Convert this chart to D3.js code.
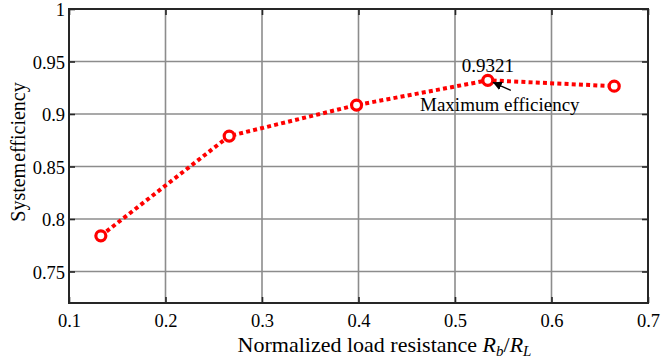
<!DOCTYPE html>
<html>
<head>
<meta charset="utf-8">
<script src="https://cdn.jsdelivr.net/npm/d3@7"></script>
<style>
  body { margin: 0; background: #fff; }
  svg text { font-family: "Liberation Serif", "Times New Roman", "DejaVu Serif", serif !important; fill: #000; }
</style>
</head>
<body>
<div id="chart"></div>
<script>
// Chart data
const loadRatio = [0.133, 0.266, 0.398, 0.534, 0.665];
const efficiency = [0.784, 0.879, 0.9085, 0.9321, 0.9265];
const xTicks = [0.1, 0.2, 0.3, 0.4, 0.5, 0.6, 0.7];
const yTicks = [0.75, 0.8, 0.85, 0.9, 0.95, 1];
const peakLabel = '0.9321';
const peakNote = 'Maximum efficiency';

// Chart dimensions
let margin = { top: 9, right: 17, bottom: 59, left: 69 };
let width = 665 - margin.left - margin.right;
let height = 362 - margin.top - margin.bottom;

let svg = d3.select('#chart')
    .append('svg')
    .attr('width', 665)
    .attr('height', 362)
    .append('g')
    .attr('transform', 'translate(' + margin.left + ',' + margin.top + ')');

// Scales
let xScale = d3.scaleLinear().domain([0.1, 0.7]).range([0, width]);
let yScale = d3.scaleLinear().domain([0.72, 1]).range([height, 0]);

// Grid lines
svg.append('g')
    .selectAll('line')
    .data(xTicks.slice(1, -1))
    .enter().append('line')
    .attr('x1', d => xScale(d)).attr('x2', d => xScale(d))
    .attr('y1', 0).attr('y2', height)
    .style('stroke', '#8c8c8c').style('stroke-width', 1.6);

svg.append('g')
    .selectAll('line')
    .data(yTicks.filter(d => d < 1))
    .enter().append('line')
    .attr('x1', 0).attr('x2', width)
    .attr('y1', d => yScale(d)).attr('y2', d => yScale(d))
    .style('stroke', '#8c8c8c').style('stroke-width', 1.6);

// Axes (ticks point inward)
function styleAxis(node) {
    node.attr('font-family', null).attr('font-size', null);
    node.select('path').remove();
    node.selectAll('line').style('stroke', '#262626').style('stroke-width', 1.6);
    node.selectAll('text').style('font-size', '18.5px').attr('fill', '#000');
}

let xAxis = d3.axisBottom(xScale).tickValues(xTicks).tickSize(-6).tickPadding(11).tickFormat(d3.format('.1f'));
let xNode = svg.append('g').attr('transform', 'translate(0,' + height + ')').call(xAxis);
styleAxis(xNode);

let xTop = svg.append('g').call(d3.axisTop(xScale).tickValues(xTicks).tickSize(-6).tickFormat(''));
styleAxis(xTop);

let yAxis = d3.axisLeft(yScale).tickValues(yTicks).tickSize(-6).tickPadding(4).tickFormat(d => d === 1 ? '1' : d3.format('')(d));
let yNode = svg.append('g').call(yAxis);
styleAxis(yNode);
yNode.selectAll('text').attr('dy', '0.36em');

let yRight = svg.append('g').attr('transform', 'translate(' + width + ',0)')
    .call(d3.axisRight(yScale).tickValues(yTicks).tickSize(-6).tickFormat(''));
styleAxis(yRight);

// Plot border
svg.append('rect')
    .attr('x', 0).attr('y', 0)
    .attr('width', width).attr('height', height)
    .style('fill', 'none').style('stroke', '#262626').style('stroke-width', 2);

// Axis titles
svg.append('text')
    .attr('transform', 'translate(-44,' + (height / 2 - 4) + ') rotate(-90)')
    .attr('text-anchor', 'middle')
    .style('font-size', '20px')
    .style('word-spacing', '-4px')
    .text('System efficiency');

let xTitle = svg.append('text')
    .attr('x', width / 2 + 26)
    .attr('y', height + 48.5)
    .attr('text-anchor', 'middle')
    .style('font-size', '22px');
xTitle.append('tspan').text('Normalized load resistance ');
xTitle.append('tspan').style('font-style', 'italic').text('R');
xTitle.append('tspan').style('font-style', 'italic').style('font-size', '15px').attr('dy', 4).text('b');
xTitle.append('tspan').attr('dy', -4).text('/');
xTitle.append('tspan').style('font-style', 'italic').text('R');
xTitle.append('tspan').style('font-style', 'italic').style('font-size', '15px').attr('dy', 4).text('L');

// Data line
let dataset = loadRatio.map((x, i) => ({ x: x, y: efficiency[i] }));
let lineFunction = d3.line()
    .x(d => xScale(d.x))
    .y(d => yScale(d.y));

svg.append('path')
    .attr('d', lineFunction(dataset))
    .style('fill', 'none')
    .style('stroke', '#ff0000')
    .style('stroke-width', 4)
    .style('stroke-dasharray', '4,3.2');

svg.selectAll('.dot')
    .data(dataset)
    .enter().append('circle')
    .attr('class', 'dot')
    .attr('cx', d => xScale(d.x))
    .attr('cy', d => yScale(d.y))
    .attr('r', 5)
    .style('fill', '#fff')
    .style('stroke', '#ff0000')
    .style('stroke-width', 3.2);

// Peak annotation
let peak = dataset[3];
let px = xScale(peak.x), py = yScale(peak.y);

svg.append('text')
    .attr('x', px).attr('y', py - 8)
    .attr('text-anchor', 'middle')
    .style('font-size', '19px')
    .text(peakLabel);

svg.append('defs').append('marker')
    .attr('id', 'arrowHead')
    .attr('viewBox', '0 0 10 10')
    .attr('refX', 10).attr('refY', 5)
    .attr('markerWidth', 9).attr('markerHeight', 9)
    .attr('markerUnits', 'userSpaceOnUse')
    .attr('orient', 'auto')
    .append('path')
    .attr('d', 'M0,0 L10,5 L0,10 z')
    .style('fill', '#000');

svg.append('line')
    .attr('x1', px + 23).attr('y1', py + 10)
    .attr('x2', px + 5).attr('y2', py + 2)
    .style('stroke', '#000')
    .style('stroke-width', 1.3)
    .attr('marker-end', 'url(#arrowHead)');

svg.append('text')
    .attr('x', px + 12).attr('y', py + 31)
    .attr('text-anchor', 'middle')
    .style('font-size', '19px')
    .text(peakNote);
</script>
</body>
</html>
